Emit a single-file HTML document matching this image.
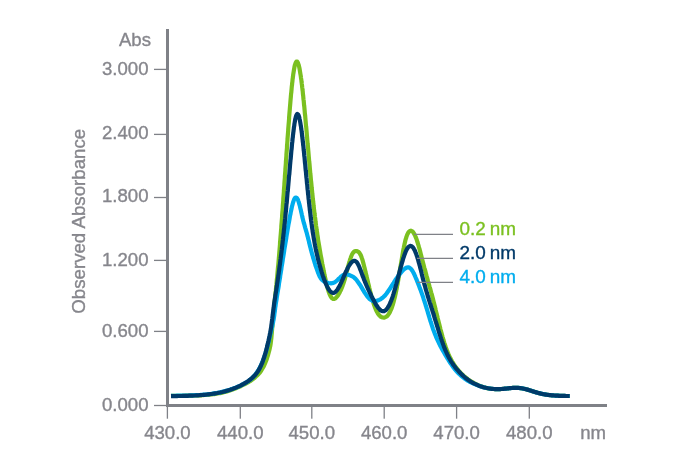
<!DOCTYPE html>
<html><head><meta charset="utf-8"><style>
html,body{margin:0;padding:0;background:#fff;width:695px;height:460px;overflow:hidden;font-family:"Liberation Sans",sans-serif;}
</style></head><body>
<svg width="695" height="460" viewBox="0 0 695 460" style="position:absolute;left:0;top:0;will-change:transform">
<g fill="#7f8187">
<rect x="166" y="29" width="3" height="378"/>
<rect x="166" y="404" width="441" height="3"/>
<rect x="154" y="68.75" width="12" height="1.3"/>
<rect x="154" y="133.75" width="12" height="1.3"/>
<rect x="154" y="196.85" width="12" height="1.3"/>
<rect x="154" y="259.75" width="12" height="1.3"/>
<rect x="154" y="330.75" width="12" height="1.3"/>
<rect x="154" y="404.85" width="12" height="1.3"/>
<rect x="166.75" y="405" width="1.3" height="13.7"/>
<rect x="239.65" y="405" width="1.3" height="13.7"/>
<rect x="311.15" y="405" width="1.3" height="13.7"/>
<rect x="383.55" y="405" width="1.3" height="13.7"/>
<rect x="455.95" y="405" width="1.3" height="13.7"/>
<rect x="528.65" y="405" width="1.3" height="13.7"/>
</g>
<g font-family="Liberation Sans, sans-serif" font-size="18.6" fill="#86868c" stroke="#86868c" stroke-width="0.35">
<text x="148.5" y="75.15" text-anchor="end">3.000</text>
<text x="148.5" y="139.30" text-anchor="end">2.400</text>
<text x="148.5" y="202.15" text-anchor="end">1.800</text>
<text x="148.5" y="266.30" text-anchor="end">1.200</text>
<text x="148.5" y="337.25" text-anchor="end">0.600</text>
<text x="148.5" y="411.30" text-anchor="end">0.000</text>
<text x="167.40" y="439.3" text-anchor="middle">430.0</text>
<text x="240.30" y="439.3" text-anchor="middle">440.0</text>
<text x="311.80" y="439.3" text-anchor="middle">450.0</text>
<text x="384.20" y="439.3" text-anchor="middle">460.0</text>
<text x="456.60" y="439.3" text-anchor="middle">470.0</text>
<text x="529.30" y="439.3" text-anchor="middle">480.0</text>
<text x="606" y="439.3" text-anchor="end">nm</text>
<text x="151" y="45.8" text-anchor="end">Abs</text>
<text transform="translate(85.0,221.3) rotate(-90)" x="0" y="0" text-anchor="middle" font-size="18.7">Observed Absorbance</text>
</g>
<g fill="none" stroke-width="4.2" stroke-linejoin="round" stroke-linecap="butt">
<path stroke="#7bc020" d="M171.00 395.90 L172.2 395.9 L173.4 395.9 L174.6 395.9 L175.8 395.9 L177.0 395.8 L178.2 395.8 L179.4 395.8 L180.6 395.8 L181.8 395.8 L183.0 395.8 L184.2 395.8 L185.4 395.7 L186.6 395.7 L187.8 395.7 L189.0 395.7 L190.2 395.6 L191.4 395.6 L192.6 395.6 L193.8 395.6 L195.0 395.5 L196.2 395.5 L197.4 395.4 L198.6 395.4 L199.8 395.3 L201.0 395.3 L202.2 395.2 L203.4 395.1 L204.6 395.0 L205.8 395.0 L207.0 394.9 L208.2 394.8 L209.4 394.6 L210.6 394.5 L211.8 394.4 L212.9 394.2 L214.1 394.1 L215.3 393.9 L216.5 393.7 L217.7 393.5 L218.9 393.3 L220.1 393.1 L221.2 392.9 L222.4 392.6 L223.6 392.3 L224.7 392.0 L225.9 391.7 L227.0 391.4 L228.2 391.0 L229.3 390.7 L230.5 390.3 L231.6 389.9 L232.7 389.5 L233.9 389.1 L235.0 388.6 L236.1 388.2 L237.2 387.7 L238.3 387.2 L239.4 386.8 L240.5 386.3 L241.6 385.7 L242.6 385.2 L243.7 384.7 L244.8 384.1 L245.8 383.6 L246.9 383.0 L247.9 382.4 L249.0 381.8 L250.0 381.2 L251.0 380.5 L252.0 379.8 L253.0 379.1 L253.9 378.4 L254.8 377.6 L255.7 376.8 L256.6 376.0 L257.5 375.2 L258.3 374.3 L259.1 373.4 L259.9 372.5 L260.6 371.5 L261.3 370.5 L261.9 369.5 L262.5 368.5 L263.1 367.5 L263.7 366.4 L264.2 365.3 L264.7 364.2 L265.2 363.1 L265.6 362.0 L266.1 360.9 L266.5 359.8 L266.9 358.6 L267.2 357.5 L267.6 356.3 L268.0 355.2 L268.3 354.0 L268.6 352.9 L268.9 351.7 L269.2 350.6 L269.5 349.4 L269.8 348.2 L270.0 347.1 L270.3 345.9 L270.5 344.7 L270.7 343.5 L270.8 342.3 L271.0 341.1 L271.1 339.9 L271.3 338.7 L271.4 337.6 L271.5 336.4 L271.6 335.2 L271.7 334.0 L271.8 332.8 L271.9 331.6 L272.0 330.4 L272.1 329.2 L272.2 328.0 L272.4 326.8 L272.5 325.6 L272.6 324.4 L272.7 323.2 L272.8 322.0 L272.9 320.8 L273.1 319.6 L273.2 318.4 L273.3 317.2 L273.4 316.0 L273.5 314.9 L273.6 313.7 L273.7 312.5 L273.7 311.3 L273.8 310.1 L273.9 308.9 L274.0 307.7 L274.1 306.5 L274.3 305.3 L274.4 304.1 L274.5 302.9 L274.6 301.7 L274.7 300.5 L274.9 299.3 L275.0 298.1 L275.1 296.9 L275.3 295.7 L275.4 294.5 L275.5 293.4 L275.6 292.2 L275.8 291.0 L275.9 289.8 L276.0 288.6 L276.1 287.4 L276.2 286.2 L276.4 285.0 L276.5 283.8 L276.6 282.6 L276.7 281.4 L276.8 280.2 L276.9 279.0 L277.1 277.8 L277.2 276.6 L277.3 275.4 L277.4 274.2 L277.5 273.0 L277.6 271.9 L277.7 270.7 L277.8 269.5 L277.9 268.3 L278.0 267.1 L278.2 265.9 L278.3 264.7 L278.4 263.5 L278.5 262.3 L278.6 261.1 L278.7 259.9 L278.8 258.7 L278.9 257.5 L279.0 256.3 L279.1 255.1 L279.2 253.9 L279.3 252.7 L279.4 251.5 L279.5 250.3 L279.6 249.1 L279.7 247.9 L279.8 246.7 L279.9 245.5 L280.0 244.4 L280.0 243.2 L280.1 242.0 L280.2 240.8 L280.3 239.6 L280.4 238.4 L280.5 237.2 L280.6 236.0 L280.7 234.8 L280.8 233.6 L280.9 232.4 L281.0 231.2 L281.1 230.0 L281.2 228.8 L281.3 227.6 L281.3 226.4 L281.4 225.2 L281.5 224.0 L281.6 222.8 L281.7 221.6 L281.8 220.4 L281.9 219.2 L282.0 218.0 L282.1 216.8 L282.1 215.6 L282.2 214.4 L282.3 213.2 L282.4 212.0 L282.5 210.8 L282.6 209.7 L282.7 208.5 L282.8 207.3 L282.8 206.1 L282.9 204.9 L283.0 203.7 L283.1 202.5 L283.2 201.3 L283.3 200.1 L283.3 198.9 L283.4 197.7 L283.5 196.5 L283.6 195.3 L283.7 194.1 L283.8 192.9 L283.9 191.7 L283.9 190.5 L284.0 189.3 L284.1 188.1 L284.2 186.9 L284.3 185.7 L284.4 184.5 L284.4 183.3 L284.5 182.1 L284.6 180.9 L284.7 179.7 L284.8 178.5 L284.9 177.3 L284.9 176.1 L285.0 174.9 L285.1 173.7 L285.2 172.5 L285.3 171.3 L285.4 170.1 L285.4 169.0 L285.5 167.8 L285.6 166.6 L285.7 165.4 L285.8 164.2 L285.9 163.0 L285.9 161.8 L286.0 160.6 L286.1 159.4 L286.2 158.2 L286.3 157.0 L286.4 155.8 L286.4 154.6 L286.5 153.4 L286.6 152.2 L286.7 151.0 L286.8 149.8 L286.9 148.6 L287.0 147.4 L287.0 146.2 L287.1 145.0 L287.2 143.8 L287.3 142.6 L287.4 141.4 L287.5 140.2 L287.5 139.0 L287.6 137.8 L287.7 136.6 L287.8 135.4 L287.9 134.2 L288.0 133.0 L288.1 131.8 L288.2 130.6 L288.2 129.5 L288.3 128.3 L288.4 127.1 L288.5 125.9 L288.6 124.7 L288.7 123.5 L288.8 122.3 L288.9 121.1 L289.0 119.9 L289.1 118.7 L289.1 117.5 L289.2 116.3 L289.3 115.1 L289.4 113.9 L289.5 112.7 L289.6 111.5 L289.7 110.3 L289.8 109.1 L289.9 107.9 L290.0 106.7 L290.1 105.5 L290.2 104.3 L290.3 103.1 L290.4 101.9 L290.5 100.7 L290.6 99.5 L290.7 98.3 L290.8 97.2 L290.9 96.0 L291.0 94.8 L291.1 93.6 L291.3 92.4 L291.4 91.2 L291.5 90.0 L291.6 88.8 L291.7 87.6 L291.8 86.4 L292.0 85.2 L292.1 84.0 L292.2 82.8 L292.4 81.6 L292.5 80.4 L292.6 79.2 L292.8 78.1 L292.9 76.9 L293.1 75.7 L293.2 74.5 L293.4 73.3 L293.6 72.1 L293.8 70.9 L294.0 69.7 L294.2 68.6 L294.4 67.4 L294.6 66.2 L294.9 65.0 L295.3 63.9 L295.7 62.8 L296.3 61.7 L297.3 61.7 L297.9 62.8 L298.3 63.9 L298.7 65.0 L299.0 66.2 L299.3 67.4 L299.5 68.5 L299.7 69.7 L299.9 70.9 L300.1 72.1 L300.3 73.3 L300.5 74.5 L300.7 75.6 L300.9 76.8 L301.0 78.0 L301.2 79.2 L301.4 80.4 L301.5 81.6 L301.7 82.8 L301.8 84.0 L302.0 85.2 L302.1 86.4 L302.2 87.5 L302.4 88.7 L302.5 89.9 L302.7 91.1 L302.8 92.3 L302.9 93.5 L303.0 94.7 L303.2 95.9 L303.3 97.1 L303.4 98.3 L303.5 99.5 L303.7 100.7 L303.8 101.9 L303.9 103.1 L304.0 104.2 L304.1 105.4 L304.3 106.6 L304.4 107.8 L304.5 109.0 L304.6 110.2 L304.7 111.4 L304.8 112.6 L304.9 113.8 L305.1 115.0 L305.2 116.2 L305.3 117.4 L305.4 118.6 L305.5 119.8 L305.6 121.0 L305.7 122.2 L305.8 123.4 L305.9 124.6 L306.0 125.8 L306.2 126.9 L306.3 128.1 L306.4 129.3 L306.5 130.5 L306.6 131.7 L306.7 132.9 L306.8 134.1 L306.9 135.3 L307.0 136.5 L307.1 137.7 L307.2 138.9 L307.3 140.1 L307.4 141.3 L307.5 142.5 L307.6 143.7 L307.8 144.9 L307.9 146.1 L308.0 147.3 L308.1 148.5 L308.2 149.7 L308.3 150.9 L308.4 152.0 L308.5 153.2 L308.6 154.4 L308.7 155.6 L308.8 156.8 L308.9 158.0 L309.0 159.2 L309.1 160.4 L309.2 161.6 L309.4 162.8 L309.5 164.0 L309.6 165.2 L309.7 166.4 L309.8 167.6 L309.9 168.8 L310.0 170.0 L310.1 171.2 L310.2 172.4 L310.3 173.6 L310.5 174.8 L310.6 175.9 L310.7 177.1 L310.8 178.3 L310.9 179.5 L311.0 180.7 L311.1 181.9 L311.3 183.1 L311.4 184.3 L311.5 185.5 L311.6 186.7 L311.7 187.9 L311.9 189.1 L312.0 190.3 L312.1 191.5 L312.2 192.7 L312.3 193.9 L312.5 195.1 L312.6 196.2 L312.7 197.4 L312.8 198.6 L313.0 199.8 L313.1 201.0 L313.2 202.2 L313.4 203.4 L313.5 204.6 L313.6 205.8 L313.8 207.0 L313.9 208.2 L314.0 209.4 L314.2 210.6 L314.3 211.8 L314.5 212.9 L314.6 214.1 L314.8 215.3 L314.9 216.5 L315.1 217.7 L315.2 218.9 L315.4 220.1 L315.5 221.3 L315.7 222.5 L315.8 223.7 L316.0 224.8 L316.1 226.0 L316.3 227.2 L316.5 228.4 L316.6 229.6 L316.8 230.8 L317.0 232.0 L317.2 233.2 L317.3 234.4 L317.5 235.5 L317.7 236.7 L317.9 237.9 L318.0 239.1 L318.2 240.3 L318.4 241.5 L318.6 242.7 L318.8 243.8 L319.0 245.0 L319.2 246.2 L319.4 247.4 L319.6 248.6 L319.8 249.8 L320.0 250.9 L320.2 252.1 L320.4 253.3 L320.6 254.5 L320.8 255.7 L321.0 256.8 L321.3 258.0 L321.5 259.2 L321.7 260.4 L321.9 261.6 L322.1 262.7 L322.3 263.9 L322.6 265.1 L322.8 266.3 L323.0 267.5 L323.3 268.6 L323.5 269.8 L323.7 271.0 L324.0 272.2 L324.2 273.3 L324.4 274.5 L324.7 275.7 L324.9 276.9 L325.2 278.0 L325.5 279.2 L325.7 280.4 L326.0 281.6 L326.3 282.7 L326.5 283.9 L326.8 285.1 L327.1 286.2 L327.4 287.4 L327.7 288.5 L328.1 289.7 L328.4 290.8 L328.8 292.0 L329.2 293.1 L329.6 294.2 L330.1 295.3 L330.7 296.4 L331.3 297.4 L332.1 298.3 L333.1 298.9 L334.3 298.9 L335.3 298.4 L336.2 297.5 L337.0 296.6 L337.7 295.7 L338.4 294.7 L339.0 293.6 L339.6 292.6 L340.1 291.5 L340.7 290.5 L341.2 289.4 L341.6 288.3 L342.1 287.1 L342.5 286.0 L342.9 284.9 L343.3 283.8 L343.7 282.6 L344.1 281.5 L344.4 280.3 L344.8 279.2 L345.1 278.0 L345.4 276.9 L345.7 275.7 L346.0 274.6 L346.3 273.4 L346.6 272.2 L346.9 271.1 L347.2 269.9 L347.5 268.7 L347.8 267.6 L348.1 266.4 L348.5 265.3 L348.8 264.1 L349.1 263.0 L349.4 261.8 L349.8 260.6 L350.1 259.5 L350.5 258.4 L350.9 257.2 L351.3 256.1 L351.8 255.0 L352.3 253.9 L353.0 252.9 L353.7 252.0 L354.7 251.3 L355.8 251.0 L357.0 251.1 L358.1 251.6 L359.0 252.4 L359.7 253.3 L360.3 254.4 L360.9 255.4 L361.3 256.5 L361.7 257.7 L362.1 258.8 L362.5 260.0 L362.8 261.1 L363.1 262.3 L363.4 263.4 L363.7 264.6 L364.0 265.7 L364.3 266.9 L364.6 268.1 L364.9 269.2 L365.2 270.4 L365.4 271.6 L365.7 272.7 L366.0 273.9 L366.3 275.1 L366.5 276.3 L366.8 277.4 L367.1 278.6 L367.4 279.8 L367.7 280.9 L367.9 282.1 L368.2 283.3 L368.5 284.4 L368.8 285.6 L369.1 286.8 L369.3 287.9 L369.6 289.1 L369.9 290.2 L370.2 291.4 L370.5 292.6 L370.8 293.7 L371.1 294.9 L371.4 296.1 L371.8 297.2 L372.1 298.4 L372.4 299.5 L372.8 300.7 L373.1 301.8 L373.5 303.0 L373.8 304.1 L374.2 305.2 L374.6 306.4 L375.0 307.5 L375.5 308.6 L375.9 309.7 L376.4 310.8 L377.0 311.9 L377.5 312.9 L378.2 314.0 L378.9 314.9 L379.7 315.8 L380.6 316.6 L381.7 317.2 L382.8 317.5 L384.0 317.6 L385.2 317.3 L386.2 316.7 L387.2 316.0 L388.0 315.1 L388.7 314.1 L389.3 313.1 L389.9 312.1 L390.4 311.0 L390.9 309.9 L391.4 308.8 L391.8 307.7 L392.2 306.5 L392.6 305.4 L392.9 304.2 L393.3 303.1 L393.6 301.9 L393.9 300.8 L394.2 299.6 L394.5 298.5 L394.8 297.3 L395.1 296.1 L395.3 295.0 L395.6 293.8 L395.8 292.6 L396.1 291.4 L396.3 290.3 L396.6 289.1 L396.8 287.9 L397.0 286.7 L397.2 285.5 L397.5 284.4 L397.7 283.2 L397.9 282.0 L398.1 280.8 L398.3 279.6 L398.5 278.5 L398.7 277.3 L398.9 276.1 L399.1 274.9 L399.3 273.7 L399.5 272.5 L399.7 271.4 L399.9 270.2 L400.1 269.0 L400.3 267.8 L400.5 266.6 L400.7 265.4 L400.9 264.3 L401.1 263.1 L401.3 261.9 L401.5 260.7 L401.7 259.5 L401.9 258.3 L402.1 257.2 L402.3 256.0 L402.5 254.8 L402.7 253.6 L402.9 252.4 L403.1 251.2 L403.3 250.1 L403.5 248.9 L403.8 247.7 L404.0 246.5 L404.3 245.4 L404.5 244.2 L404.8 243.0 L405.1 241.8 L405.3 240.7 L405.6 239.5 L406.0 238.4 L406.3 237.2 L406.7 236.1 L407.1 235.0 L407.6 233.9 L408.2 232.8 L408.9 231.8 L409.8 231.0 L410.9 230.7 L412.0 231.1 L412.9 231.9 L413.6 232.9 L414.2 233.9 L414.8 235.0 L415.3 236.1 L415.7 237.2 L416.2 238.3 L416.6 239.4 L417.0 240.6 L417.3 241.7 L417.7 242.8 L418.0 244.0 L418.4 245.1 L418.7 246.3 L419.0 247.4 L419.4 248.6 L419.7 249.8 L420.0 250.9 L420.3 252.1 L420.6 253.2 L420.9 254.4 L421.2 255.6 L421.5 256.7 L421.8 257.9 L422.1 259.0 L422.4 260.2 L422.7 261.4 L423.0 262.5 L423.3 263.7 L423.6 264.8 L423.9 266.0 L424.2 267.2 L424.5 268.3 L424.9 269.5 L425.2 270.6 L425.5 271.8 L425.8 273.0 L426.1 274.1 L426.4 275.3 L426.7 276.4 L427.1 277.6 L427.4 278.7 L427.7 279.9 L428.0 281.1 L428.4 282.2 L428.7 283.4 L429.0 284.5 L429.3 285.7 L429.6 286.8 L430.0 288.0 L430.3 289.1 L430.6 290.3 L430.9 291.5 L431.2 292.6 L431.6 293.8 L431.9 294.9 L432.2 296.1 L432.5 297.3 L432.8 298.4 L433.1 299.6 L433.4 300.7 L433.7 301.9 L434.0 303.1 L434.3 304.2 L434.6 305.4 L434.9 306.6 L435.2 307.7 L435.5 308.9 L435.7 310.0 L436.0 311.2 L436.3 312.4 L436.6 313.5 L436.9 314.7 L437.2 315.9 L437.5 317.0 L437.7 318.2 L438.0 319.4 L438.3 320.5 L438.6 321.7 L438.9 322.9 L439.2 324.0 L439.5 325.2 L439.8 326.4 L440.1 327.5 L440.3 328.7 L440.6 329.9 L441.0 331.0 L441.3 332.2 L441.6 333.3 L441.9 334.5 L442.2 335.6 L442.5 336.8 L442.9 338.0 L443.2 339.1 L443.5 340.3 L443.9 341.4 L444.2 342.6 L444.6 343.7 L445.0 344.8 L445.3 346.0 L445.7 347.1 L446.1 348.2 L446.5 349.4 L447.0 350.5 L447.4 351.6 L447.9 352.7 L448.3 353.8 L448.8 354.9 L449.3 356.0 L449.8 357.1 L450.3 358.2 L450.9 359.2 L451.5 360.3 L452.0 361.4 L452.7 362.4 L453.3 363.4 L453.9 364.4 L454.6 365.4 L455.3 366.4 L456.0 367.4 L456.7 368.3 L457.5 369.3 L458.2 370.2 L459.0 371.1 L459.8 372.0 L460.6 372.9 L461.5 373.7 L462.3 374.6 L463.2 375.4 L464.1 376.2 L465.0 377.0 L465.9 377.7 L466.9 378.5 L467.8 379.2 L468.8 379.9 L469.8 380.6 L470.8 381.2 L471.8 381.8 L472.9 382.4 L473.9 383.0 L475.0 383.6 L476.0 384.2 L477.1 384.7 L478.2 385.2 L479.3 385.6 L480.4 386.1 L481.6 386.5 L482.7 386.9 L483.8 387.3 L485.0 387.6 L486.2 387.9 L487.3 388.1 L488.5 388.4 L489.7 388.6 L490.9 388.7 L492.1 388.9 L493.3 389.0 L494.5 389.1 L495.7 389.1 L496.9 389.1 L498.1 389.1 L499.3 389.1 L500.5 389.1 L501.7 389.0 L502.9 388.9 L504.1 388.8 L505.2 388.7 L506.4 388.5 L507.6 388.4 L508.8 388.3 L510.0 388.1 L511.2 388.0 L512.4 387.9 L513.6 387.9 L514.8 387.8 L516.0 387.8 L517.2 387.8 L518.4 387.9 L519.6 388.0 L520.8 388.2 L522.0 388.3 L523.2 388.6 L524.3 388.8 L525.5 389.1 L526.7 389.4 L527.8 389.7 L529.0 390.1 L530.1 390.4 L531.2 390.8 L532.4 391.2 L533.5 391.5 L534.7 391.9 L535.8 392.2 L537.0 392.6 L538.1 392.9 L539.3 393.2 L540.5 393.5 L541.6 393.8 L542.8 394.0 L544.0 394.3 L545.2 394.5 L546.3 394.7 L547.5 394.8 L548.7 395.0 L549.9 395.1 L551.1 395.2 L552.3 395.4 L553.5 395.4 L554.7 395.5 L555.9 395.6 L557.1 395.7 L558.3 395.7 L559.5 395.8 L560.7 395.8 L561.9 395.9 L563.1 395.9 L564.3 395.9 L565.5 396.0 L566.7 396.0 L567.9 396.0 L569.1 396.0 L569.7 396.0"/>
<path stroke="#00adee" d="M171.00 395.82 L172.2 395.8 L173.4 395.8 L174.6 395.8 L175.8 395.8 L177.0 395.7 L178.2 395.7 L179.4 395.7 L180.6 395.7 L181.8 395.7 L183.0 395.6 L184.2 395.6 L185.4 395.6 L186.6 395.6 L187.8 395.5 L189.0 395.5 L190.2 395.4 L191.4 395.4 L192.6 395.4 L193.8 395.3 L195.0 395.2 L196.2 395.2 L197.4 395.1 L198.6 395.0 L199.8 395.0 L201.0 394.9 L202.2 394.8 L203.4 394.7 L204.6 394.6 L205.8 394.5 L207.0 394.4 L208.2 394.2 L209.3 394.1 L210.5 394.0 L211.7 393.8 L212.9 393.6 L214.1 393.4 L215.3 393.2 L216.5 393.0 L217.6 392.8 L218.8 392.6 L220.0 392.4 L221.2 392.1 L222.3 391.8 L223.5 391.5 L224.7 391.2 L225.8 390.9 L227.0 390.6 L228.1 390.3 L229.3 389.9 L230.4 389.5 L231.6 389.1 L232.7 388.8 L233.8 388.3 L234.9 387.9 L236.1 387.5 L237.2 387.0 L238.3 386.5 L239.4 386.1 L240.5 385.6 L241.5 385.0 L242.6 384.5 L243.7 383.9 L244.7 383.3 L245.7 382.7 L246.8 382.1 L247.8 381.5 L248.8 380.8 L249.7 380.0 L250.6 379.3 L251.6 378.5 L252.4 377.7 L253.3 376.8 L254.1 376.0 L254.9 375.1 L255.6 374.1 L256.4 373.2 L257.1 372.2 L257.7 371.2 L258.4 370.2 L259.0 369.1 L259.6 368.1 L260.1 367.0 L260.6 366.0 L261.2 364.9 L261.6 363.8 L262.1 362.7 L262.6 361.6 L263.0 360.4 L263.4 359.3 L263.8 358.2 L264.2 357.0 L264.6 355.9 L265.0 354.8 L265.3 353.6 L265.7 352.5 L266.0 351.3 L266.4 350.2 L266.7 349.0 L267.0 347.9 L267.3 346.7 L267.6 345.5 L267.9 344.4 L268.2 343.2 L268.5 342.1 L268.8 340.9 L269.0 339.7 L269.3 338.5 L269.6 337.4 L269.8 336.2 L270.1 335.0 L270.4 333.9 L270.6 332.7 L270.9 331.5 L271.2 330.4 L271.5 329.2 L271.7 328.0 L272.0 326.9 L272.3 325.7 L272.5 324.5 L272.8 323.3 L273.1 322.2 L273.3 321.0 L273.5 319.8 L273.7 318.6 L273.9 317.5 L274.1 316.3 L274.3 315.1 L274.4 313.9 L274.6 312.7 L274.8 311.5 L274.9 310.3 L275.1 309.1 L275.2 307.9 L275.4 306.7 L275.6 305.6 L275.7 304.4 L275.9 303.2 L276.1 302.0 L276.3 300.8 L276.5 299.6 L276.7 298.4 L276.8 297.3 L277.0 296.1 L277.2 294.9 L277.4 293.7 L277.6 292.5 L277.8 291.3 L278.0 290.2 L278.2 289.0 L278.4 287.8 L278.6 286.6 L278.8 285.4 L278.9 284.2 L279.1 283.0 L279.3 281.9 L279.5 280.7 L279.7 279.5 L279.9 278.3 L280.1 277.1 L280.2 275.9 L280.4 274.7 L280.6 273.6 L280.8 272.4 L281.0 271.2 L281.2 270.0 L281.4 268.8 L281.5 267.6 L281.7 266.4 L281.9 265.3 L282.1 264.1 L282.3 262.9 L282.5 261.7 L282.7 260.5 L282.8 259.3 L283.0 258.1 L283.2 257.0 L283.4 255.8 L283.6 254.6 L283.8 253.4 L284.0 252.2 L284.2 251.0 L284.3 249.8 L284.5 248.7 L284.7 247.5 L284.9 246.3 L285.1 245.1 L285.3 243.9 L285.5 242.7 L285.7 241.6 L285.9 240.4 L286.1 239.2 L286.3 238.0 L286.4 236.8 L286.6 235.6 L286.8 234.4 L287.0 233.3 L287.2 232.1 L287.4 230.9 L287.6 229.7 L287.8 228.5 L288.0 227.3 L288.2 226.2 L288.4 225.0 L288.6 223.8 L288.9 222.6 L289.1 221.4 L289.3 220.3 L289.5 219.1 L289.7 217.9 L289.9 216.7 L290.1 215.5 L290.4 214.4 L290.6 213.2 L290.8 212.0 L291.1 210.8 L291.3 209.7 L291.6 208.5 L291.8 207.3 L292.1 206.1 L292.4 205.0 L292.7 203.8 L293.0 202.7 L293.4 201.5 L293.8 200.4 L294.2 199.3 L294.8 198.2 L295.7 197.5 L296.8 197.9 L297.5 198.9 L298.0 199.9 L298.4 201.1 L298.8 202.2 L299.1 203.4 L299.4 204.5 L299.8 205.7 L300.0 206.8 L300.3 208.0 L300.6 209.2 L300.9 210.3 L301.1 211.5 L301.4 212.7 L301.7 213.9 L301.9 215.0 L302.2 216.2 L302.4 217.4 L302.7 218.5 L303.0 219.7 L303.3 220.9 L303.6 222.0 L303.9 223.2 L304.3 224.3 L304.6 225.5 L304.9 226.6 L305.2 227.8 L305.6 229.0 L305.9 230.1 L306.2 231.3 L306.6 232.4 L306.9 233.6 L307.2 234.7 L307.5 235.9 L307.8 237.0 L308.1 238.2 L308.4 239.4 L308.7 240.5 L309.0 241.7 L309.2 242.9 L309.5 244.0 L309.8 245.2 L310.1 246.4 L310.4 247.5 L310.7 248.7 L311.0 249.9 L311.3 251.0 L311.6 252.2 L311.9 253.3 L312.2 254.5 L312.6 255.6 L312.9 256.8 L313.2 258.0 L313.6 259.1 L313.9 260.3 L314.3 261.4 L314.6 262.6 L315.0 263.7 L315.3 264.8 L315.7 266.0 L316.1 267.1 L316.5 268.2 L316.9 269.4 L317.3 270.5 L317.7 271.6 L318.1 272.8 L318.6 273.9 L319.0 275.0 L319.5 276.1 L320.1 277.1 L320.7 278.2 L321.4 279.1 L322.2 280.0 L323.1 280.8 L324.1 281.5 L325.2 282.0 L326.3 282.4 L327.5 282.7 L328.6 283.0 L329.8 283.2 L331.0 283.3 L332.2 283.2 L333.4 282.9 L334.5 282.4 L335.5 281.8 L336.4 281.0 L337.3 280.2 L338.2 279.4 L339.0 278.5 L339.9 277.7 L340.7 276.9 L341.6 276.1 L342.6 275.4 L343.7 274.8 L344.8 274.5 L346.0 274.4 L347.2 274.5 L348.4 274.8 L349.5 275.1 L350.6 275.6 L351.7 276.1 L352.8 276.6 L353.8 277.3 L354.7 278.1 L355.6 278.9 L356.4 279.8 L357.1 280.7 L357.8 281.7 L358.5 282.7 L359.2 283.7 L359.9 284.7 L360.5 285.7 L361.1 286.7 L361.7 287.8 L362.4 288.8 L363.0 289.8 L363.6 290.8 L364.2 291.9 L364.8 292.9 L365.5 293.9 L366.2 294.9 L366.9 295.9 L367.6 296.8 L368.4 297.7 L369.2 298.6 L370.1 299.4 L371.1 300.0 L372.2 300.6 L373.3 300.9 L374.5 301.0 L375.7 300.9 L376.9 300.7 L378.1 300.4 L379.2 299.9 L380.2 299.4 L381.3 298.7 L382.2 298.0 L383.1 297.3 L384.0 296.4 L384.9 295.6 L385.6 294.7 L386.4 293.8 L387.1 292.8 L387.8 291.8 L388.5 290.8 L389.2 289.8 L389.9 288.8 L390.5 287.8 L391.1 286.8 L391.8 285.8 L392.4 284.8 L393.1 283.8 L393.7 282.8 L394.3 281.7 L395.0 280.7 L395.6 279.7 L396.3 278.7 L397.0 277.7 L397.7 276.8 L398.4 275.8 L399.1 274.8 L399.9 273.9 L400.6 273.0 L401.4 272.1 L402.2 271.2 L403.0 270.3 L403.9 269.5 L404.8 268.7 L405.8 268.0 L406.9 267.5 L408.1 267.3 L409.2 267.6 L410.2 268.2 L411.1 269.0 L411.8 270.0 L412.5 271.0 L413.1 272.0 L413.6 273.1 L414.2 274.2 L414.7 275.3 L415.2 276.4 L415.6 277.5 L416.1 278.6 L416.6 279.7 L417.0 280.8 L417.4 281.9 L417.9 283.0 L418.3 284.1 L418.8 285.3 L419.2 286.4 L419.6 287.5 L420.0 288.6 L420.5 289.8 L420.9 290.9 L421.3 292.0 L421.7 293.1 L422.1 294.3 L422.5 295.4 L422.9 296.5 L423.3 297.7 L423.6 298.8 L424.0 300.0 L424.4 301.1 L424.7 302.2 L425.1 303.4 L425.5 304.5 L425.8 305.7 L426.2 306.8 L426.5 308.0 L426.9 309.1 L427.2 310.3 L427.6 311.4 L427.9 312.6 L428.2 313.7 L428.6 314.9 L428.9 316.0 L429.3 317.2 L429.6 318.3 L430.0 319.5 L430.3 320.6 L430.7 321.8 L431.1 322.9 L431.4 324.0 L431.8 325.2 L432.2 326.3 L432.6 327.5 L432.9 328.6 L433.3 329.7 L433.8 330.9 L434.2 332.0 L434.6 333.1 L435.0 334.2 L435.5 335.3 L435.9 336.4 L436.4 337.6 L436.9 338.7 L437.4 339.7 L437.9 340.8 L438.4 341.9 L438.9 343.0 L439.4 344.1 L440.0 345.2 L440.5 346.2 L441.1 347.3 L441.6 348.3 L442.2 349.4 L442.8 350.4 L443.4 351.5 L444.0 352.5 L444.6 353.6 L445.2 354.6 L445.8 355.6 L446.4 356.7 L447.0 357.7 L447.7 358.7 L448.3 359.7 L448.9 360.8 L449.6 361.8 L450.2 362.8 L450.9 363.8 L451.6 364.7 L452.3 365.7 L453.0 366.7 L453.7 367.7 L454.4 368.6 L455.2 369.6 L455.9 370.5 L456.7 371.4 L457.5 372.3 L458.4 373.2 L459.2 374.0 L460.1 374.8 L460.9 375.7 L461.8 376.4 L462.8 377.2 L463.7 377.9 L464.7 378.7 L465.7 379.3 L466.7 380.0 L467.7 380.6 L468.7 381.2 L469.8 381.8 L470.9 382.3 L471.9 382.9 L473.0 383.4 L474.1 383.9 L475.2 384.3 L476.3 384.8 L477.5 385.2 L478.6 385.7 L479.7 386.1 L480.8 386.4 L482.0 386.8 L483.1 387.1 L484.3 387.5 L485.5 387.7 L486.6 388.0 L487.8 388.2 L489.0 388.4 L490.2 388.6 L491.4 388.8 L492.6 388.9 L493.8 389.0 L495.0 389.1 L496.2 389.1 L497.4 389.1 L498.6 389.1 L499.8 389.1 L500.9 389.0 L502.1 389.0 L503.3 388.9 L504.5 388.7 L505.7 388.6 L506.9 388.5 L508.1 388.3 L509.3 388.2 L510.5 388.1 L511.7 388.0 L512.9 387.9 L514.1 387.9 L515.3 387.8 L516.5 387.8 L517.7 387.9 L518.9 387.9 L520.1 388.1 L521.3 388.2 L522.5 388.4 L523.6 388.7 L524.8 388.9 L526.0 389.2 L527.1 389.5 L528.3 389.9 L529.4 390.2 L530.6 390.6 L531.7 390.9 L532.9 391.3 L534.0 391.7 L535.1 392.0 L536.3 392.4 L537.4 392.7 L538.6 393.0 L539.8 393.3 L540.9 393.6 L542.1 393.9 L543.3 394.1 L544.5 394.3 L545.6 394.6 L546.8 394.7 L548.0 394.9 L549.2 395.0 L550.4 395.2 L551.6 395.3 L552.8 395.4 L554.0 395.5 L555.2 395.6 L556.4 395.6 L557.6 395.7 L558.8 395.7 L560.0 395.8 L561.2 395.8 L562.4 395.9 L563.6 395.9 L564.8 395.9 L566.0 396.0 L567.2 396.0 L568.4 396.0 L569.6 396.0 L569.7 396.0"/>
<path stroke="#003a69" d="M171.00 396.14 L172.2 396.1 L173.4 396.1 L174.6 396.1 L175.8 396.1 L177.0 396.1 L178.2 396.0 L179.4 396.0 L180.6 396.0 L181.8 396.0 L183.0 395.9 L184.2 395.9 L185.4 395.9 L186.6 395.8 L187.8 395.8 L189.0 395.7 L190.2 395.7 L191.4 395.7 L192.6 395.6 L193.8 395.5 L195.0 395.5 L196.2 395.4 L197.4 395.3 L198.6 395.3 L199.8 395.2 L201.0 395.1 L202.2 395.0 L203.4 394.9 L204.6 394.8 L205.8 394.7 L207.0 394.5 L208.1 394.4 L209.3 394.3 L210.5 394.1 L211.7 394.0 L212.9 393.8 L214.1 393.6 L215.3 393.4 L216.5 393.2 L217.6 393.0 L218.8 392.7 L220.0 392.5 L221.2 392.2 L222.3 392.0 L223.5 391.7 L224.7 391.4 L225.8 391.1 L227.0 390.7 L228.1 390.4 L229.3 390.0 L230.4 389.7 L231.5 389.3 L232.7 388.9 L233.8 388.4 L234.9 388.0 L236.0 387.6 L237.1 387.1 L238.2 386.6 L239.3 386.1 L240.4 385.6 L241.5 385.0 L242.5 384.5 L243.6 383.9 L244.6 383.3 L245.7 382.7 L246.7 382.1 L247.7 381.4 L248.7 380.7 L249.6 380.0 L250.6 379.3 L251.5 378.5 L252.4 377.7 L253.3 376.9 L254.1 376.1 L255.0 375.2 L255.7 374.3 L256.5 373.4 L257.2 372.4 L257.9 371.4 L258.5 370.4 L259.1 369.4 L259.7 368.3 L260.2 367.2 L260.8 366.1 L261.2 365.0 L261.7 363.9 L262.2 362.8 L262.6 361.7 L263.0 360.6 L263.4 359.4 L263.8 358.3 L264.2 357.2 L264.5 356.0 L264.9 354.9 L265.2 353.7 L265.6 352.6 L265.9 351.4 L266.2 350.3 L266.5 349.1 L266.8 347.9 L267.1 346.8 L267.4 345.6 L267.6 344.4 L267.9 343.3 L268.2 342.1 L268.5 340.9 L268.7 339.8 L269.0 338.6 L269.2 337.4 L269.5 336.2 L269.7 335.1 L269.9 333.9 L270.2 332.7 L270.4 331.5 L270.6 330.3 L270.8 329.2 L271.0 328.0 L271.2 326.8 L271.3 325.6 L271.5 324.4 L271.7 323.2 L271.8 322.0 L272.0 320.9 L272.1 319.7 L272.3 318.5 L272.4 317.3 L272.6 316.1 L272.7 314.9 L272.9 313.7 L273.0 312.5 L273.2 311.3 L273.3 310.1 L273.5 308.9 L273.6 307.8 L273.8 306.6 L273.9 305.4 L274.1 304.2 L274.2 303.0 L274.4 301.8 L274.6 300.6 L274.8 299.4 L275.0 298.2 L275.2 297.1 L275.3 295.9 L275.5 294.7 L275.7 293.5 L275.9 292.3 L276.1 291.1 L276.3 289.9 L276.4 288.8 L276.6 287.6 L276.8 286.4 L277.0 285.2 L277.1 284.0 L277.3 282.8 L277.5 281.6 L277.7 280.4 L277.8 279.3 L278.0 278.1 L278.2 276.9 L278.3 275.7 L278.5 274.5 L278.7 273.3 L278.8 272.1 L279.0 270.9 L279.2 269.8 L279.3 268.6 L279.5 267.4 L279.6 266.2 L279.8 265.0 L280.0 263.8 L280.1 262.6 L280.3 261.4 L280.4 260.2 L280.6 259.0 L280.7 257.9 L280.9 256.7 L281.0 255.5 L281.2 254.3 L281.3 253.1 L281.5 251.9 L281.6 250.7 L281.8 249.5 L281.9 248.3 L282.0 247.1 L282.2 245.9 L282.3 244.8 L282.5 243.6 L282.6 242.4 L282.7 241.2 L282.9 240.0 L283.0 238.8 L283.1 237.6 L283.3 236.4 L283.4 235.2 L283.5 234.0 L283.7 232.8 L283.8 231.6 L283.9 230.4 L284.0 229.3 L284.2 228.1 L284.3 226.9 L284.4 225.7 L284.5 224.5 L284.7 223.3 L284.8 222.1 L284.9 220.9 L285.0 219.7 L285.2 218.5 L285.3 217.3 L285.4 216.1 L285.5 214.9 L285.6 213.7 L285.7 212.5 L285.9 211.3 L286.0 210.1 L286.1 209.0 L286.2 207.8 L286.3 206.6 L286.4 205.4 L286.5 204.2 L286.7 203.0 L286.8 201.8 L286.9 200.6 L287.0 199.4 L287.1 198.2 L287.2 197.0 L287.3 195.8 L287.4 194.6 L287.5 193.4 L287.6 192.2 L287.8 191.0 L287.9 189.8 L288.0 188.6 L288.1 187.4 L288.2 186.2 L288.3 185.1 L288.4 183.9 L288.5 182.7 L288.6 181.5 L288.7 180.3 L288.8 179.1 L288.9 177.9 L289.0 176.7 L289.1 175.5 L289.3 174.3 L289.4 173.1 L289.5 171.9 L289.6 170.7 L289.7 169.5 L289.8 168.3 L289.9 167.1 L290.0 165.9 L290.1 164.7 L290.2 163.5 L290.3 162.3 L290.4 161.2 L290.5 160.0 L290.7 158.8 L290.8 157.6 L290.9 156.4 L291.0 155.2 L291.1 154.0 L291.2 152.8 L291.3 151.6 L291.4 150.4 L291.6 149.2 L291.7 148.0 L291.8 146.8 L291.9 145.6 L292.0 144.4 L292.1 143.2 L292.3 142.0 L292.4 140.8 L292.5 139.7 L292.6 138.5 L292.8 137.3 L292.9 136.1 L293.0 134.9 L293.2 133.7 L293.3 132.5 L293.5 131.3 L293.6 130.1 L293.8 128.9 L293.9 127.7 L294.1 126.5 L294.3 125.4 L294.4 124.2 L294.6 123.0 L294.8 121.8 L295.0 120.6 L295.2 119.4 L295.5 118.3 L295.8 117.1 L296.1 115.9 L296.6 114.8 L297.3 113.9 L298.2 114.6 L298.7 115.7 L299.1 116.8 L299.4 118.0 L299.6 119.2 L299.9 120.3 L300.1 121.5 L300.3 122.7 L300.5 123.9 L300.7 125.1 L300.9 126.2 L301.1 127.4 L301.2 128.6 L301.4 129.8 L301.6 131.0 L301.7 132.2 L301.9 133.4 L302.0 134.6 L302.1 135.8 L302.3 137.0 L302.4 138.1 L302.6 139.3 L302.7 140.5 L302.8 141.7 L303.0 142.9 L303.1 144.1 L303.2 145.3 L303.4 146.5 L303.5 147.7 L303.6 148.9 L303.7 150.1 L303.9 151.3 L304.0 152.5 L304.1 153.7 L304.2 154.8 L304.3 156.0 L304.5 157.2 L304.6 158.4 L304.7 159.6 L304.8 160.8 L304.9 162.0 L305.0 163.2 L305.2 164.4 L305.3 165.6 L305.4 166.8 L305.5 168.0 L305.6 169.2 L305.7 170.4 L305.9 171.6 L306.0 172.8 L306.1 174.0 L306.2 175.1 L306.3 176.3 L306.4 177.5 L306.6 178.7 L306.7 179.9 L306.8 181.1 L306.9 182.3 L307.0 183.5 L307.2 184.7 L307.3 185.9 L307.4 187.1 L307.5 188.3 L307.6 189.5 L307.8 190.7 L307.9 191.9 L308.0 193.1 L308.1 194.3 L308.3 195.4 L308.4 196.6 L308.5 197.8 L308.6 199.0 L308.8 200.2 L308.9 201.4 L309.0 202.6 L309.2 203.8 L309.3 205.0 L309.4 206.2 L309.6 207.4 L309.7 208.6 L309.8 209.8 L310.0 211.0 L310.1 212.1 L310.3 213.3 L310.4 214.5 L310.5 215.7 L310.7 216.9 L310.8 218.1 L311.0 219.3 L311.1 220.5 L311.3 221.7 L311.5 222.9 L311.6 224.0 L311.8 225.2 L311.9 226.4 L312.1 227.6 L312.3 228.8 L312.5 230.0 L312.6 231.2 L312.8 232.4 L313.0 233.5 L313.2 234.7 L313.4 235.9 L313.6 237.1 L313.8 238.3 L314.0 239.5 L314.2 240.7 L314.4 241.8 L314.6 243.0 L314.8 244.2 L315.0 245.4 L315.3 246.6 L315.5 247.7 L315.7 248.9 L316.0 250.1 L316.2 251.3 L316.5 252.4 L316.8 253.6 L317.0 254.8 L317.3 255.9 L317.6 257.1 L317.8 258.3 L318.1 259.4 L318.4 260.6 L318.7 261.8 L319.0 262.9 L319.4 264.1 L319.7 265.2 L320.0 266.4 L320.3 267.5 L320.7 268.7 L321.0 269.8 L321.4 271.0 L321.7 272.1 L322.1 273.3 L322.4 274.4 L322.8 275.6 L323.2 276.7 L323.6 277.8 L324.0 279.0 L324.4 280.1 L324.8 281.2 L325.3 282.3 L325.7 283.4 L326.2 284.5 L326.7 285.6 L327.2 286.7 L327.8 287.8 L328.4 288.8 L329.0 289.8 L329.7 290.8 L330.6 291.7 L331.5 292.4 L332.6 292.8 L333.8 292.8 L334.9 292.3 L335.8 291.6 L336.6 290.7 L337.4 289.7 L338.0 288.7 L338.6 287.7 L339.2 286.6 L339.8 285.6 L340.3 284.5 L340.8 283.4 L341.3 282.3 L341.8 281.2 L342.3 280.1 L342.8 279.0 L343.2 277.9 L343.7 276.8 L344.2 275.7 L344.7 274.6 L345.1 273.5 L345.6 272.4 L346.1 271.3 L346.7 270.2 L347.2 269.2 L347.7 268.1 L348.3 267.0 L348.9 266.0 L349.5 265.0 L350.2 264.0 L350.9 263.0 L351.7 262.1 L352.7 261.4 L353.7 260.9 L354.9 260.9 L356.0 261.5 L356.8 262.3 L357.5 263.3 L358.1 264.4 L358.6 265.4 L359.1 266.5 L359.6 267.6 L360.0 268.8 L360.4 269.9 L360.9 271.0 L361.3 272.1 L361.7 273.2 L362.1 274.4 L362.5 275.5 L362.9 276.6 L363.4 277.7 L363.8 278.9 L364.2 280.0 L364.7 281.1 L365.1 282.2 L365.6 283.3 L366.0 284.4 L366.5 285.5 L367.0 286.6 L367.5 287.7 L368.0 288.8 L368.5 289.9 L369.0 291.0 L369.5 292.1 L370.0 293.2 L370.6 294.2 L371.1 295.3 L371.6 296.4 L372.2 297.5 L372.7 298.5 L373.3 299.6 L373.8 300.6 L374.4 301.7 L375.0 302.8 L375.6 303.8 L376.2 304.8 L376.8 305.8 L377.5 306.8 L378.2 307.8 L379.0 308.7 L379.8 309.6 L380.7 310.4 L381.8 311.0 L382.9 311.2 L384.1 311.1 L385.2 310.5 L386.1 309.8 L386.9 308.9 L387.6 307.9 L388.2 306.9 L388.8 305.8 L389.4 304.8 L389.9 303.7 L390.4 302.6 L390.8 301.5 L391.3 300.4 L391.7 299.2 L392.1 298.1 L392.5 297.0 L392.9 295.8 L393.2 294.7 L393.6 293.6 L393.9 292.4 L394.3 291.3 L394.6 290.1 L395.0 289.0 L395.3 287.8 L395.6 286.7 L395.9 285.5 L396.3 284.3 L396.6 283.2 L396.9 282.0 L397.2 280.9 L397.5 279.7 L397.8 278.5 L398.1 277.4 L398.4 276.2 L398.7 275.1 L399.0 273.9 L399.3 272.7 L399.6 271.6 L399.9 270.4 L400.2 269.2 L400.5 268.1 L400.8 266.9 L401.2 265.8 L401.5 264.6 L401.8 263.5 L402.1 262.3 L402.5 261.2 L402.8 260.0 L403.1 258.9 L403.5 257.7 L403.9 256.6 L404.3 255.4 L404.7 254.3 L405.1 253.2 L405.5 252.1 L406.0 251.0 L406.5 249.9 L407.1 248.8 L407.8 247.8 L408.5 246.9 L409.5 246.2 L410.6 245.9 L411.7 246.3 L412.7 247.1 L413.4 248.0 L414.0 249.1 L414.6 250.1 L415.1 251.2 L415.5 252.3 L416.0 253.4 L416.4 254.6 L416.8 255.7 L417.2 256.8 L417.5 258.0 L417.9 259.1 L418.2 260.3 L418.5 261.4 L418.8 262.6 L419.2 263.7 L419.5 264.9 L419.8 266.1 L420.1 267.2 L420.4 268.4 L420.7 269.6 L421.0 270.7 L421.3 271.9 L421.6 273.0 L421.8 274.2 L422.1 275.4 L422.4 276.5 L422.7 277.7 L423.0 278.9 L423.3 280.0 L423.6 281.2 L423.9 282.3 L424.2 283.5 L424.5 284.7 L424.9 285.8 L425.2 287.0 L425.5 288.1 L425.8 289.3 L426.1 290.4 L426.5 291.6 L426.8 292.8 L427.2 293.9 L427.5 295.1 L427.8 296.2 L428.2 297.3 L428.6 298.5 L428.9 299.6 L429.3 300.8 L429.6 301.9 L430.0 303.1 L430.4 304.2 L430.7 305.4 L431.1 306.5 L431.4 307.6 L431.8 308.8 L432.2 309.9 L432.5 311.1 L432.9 312.2 L433.3 313.4 L433.6 314.5 L434.0 315.7 L434.3 316.8 L434.7 318.0 L435.0 319.1 L435.4 320.3 L435.7 321.4 L436.1 322.5 L436.4 323.7 L436.8 324.8 L437.1 326.0 L437.5 327.1 L437.8 328.3 L438.2 329.4 L438.5 330.6 L438.9 331.7 L439.2 332.9 L439.6 334.0 L440.0 335.2 L440.3 336.3 L440.7 337.4 L441.1 338.6 L441.5 339.7 L441.9 340.9 L442.3 342.0 L442.7 343.1 L443.1 344.2 L443.5 345.4 L443.9 346.5 L444.3 347.6 L444.8 348.7 L445.2 349.8 L445.7 350.9 L446.2 352.0 L446.7 353.1 L447.2 354.2 L447.7 355.3 L448.3 356.4 L448.8 357.4 L449.4 358.5 L450.0 359.5 L450.6 360.6 L451.2 361.6 L451.9 362.6 L452.6 363.6 L453.2 364.6 L453.9 365.5 L454.7 366.5 L455.4 367.5 L456.1 368.4 L456.9 369.3 L457.7 370.2 L458.5 371.1 L459.3 372.0 L460.1 372.9 L461.0 373.7 L461.8 374.6 L462.7 375.4 L463.6 376.2 L464.5 377.0 L465.4 377.8 L466.3 378.5 L467.3 379.2 L468.3 380.0 L469.2 380.6 L470.2 381.3 L471.3 381.9 L472.3 382.6 L473.3 383.1 L474.4 383.7 L475.5 384.2 L476.6 384.7 L477.7 385.2 L478.8 385.7 L479.9 386.1 L481.0 386.5 L482.2 386.8 L483.3 387.2 L484.5 387.5 L485.7 387.8 L486.8 388.0 L488.0 388.3 L489.2 388.5 L490.4 388.7 L491.6 388.8 L492.8 388.9 L494.0 389.0 L495.2 389.1 L496.4 389.1 L497.6 389.1 L498.8 389.1 L500.0 389.1 L501.2 389.0 L502.4 388.9 L503.5 388.8 L504.7 388.7 L505.9 388.6 L507.1 388.5 L508.3 388.3 L509.5 388.2 L510.7 388.1 L511.9 388.0 L513.1 387.9 L514.3 387.8 L515.5 387.8 L516.7 387.8 L517.9 387.9 L519.1 388.0 L520.3 388.1 L521.5 388.3 L522.7 388.5 L523.8 388.7 L525.0 389.0 L526.2 389.3 L527.3 389.6 L528.5 389.9 L529.6 390.3 L530.8 390.6 L531.9 391.0 L533.1 391.4 L534.2 391.7 L535.3 392.1 L536.5 392.4 L537.6 392.8 L538.8 393.1 L540.0 393.4 L541.1 393.7 L542.3 393.9 L543.5 394.2 L544.7 394.4 L545.8 394.6 L547.0 394.8 L548.2 394.9 L549.4 395.1 L550.6 395.2 L551.8 395.3 L553.0 395.4 L554.2 395.5 L555.4 395.6 L556.6 395.6 L557.8 395.7 L559.0 395.8 L560.2 395.8 L561.4 395.8 L562.6 395.9 L563.8 395.9 L565.0 395.9 L566.2 396.0 L567.4 396.0 L568.6 396.0 L569.7 396.0"/>
</g>
<g stroke="#7f8187" stroke-width="1.3">
<line x1="414.3" y1="234.4" x2="453" y2="234.4"/>
<line x1="417.0" y1="258.3" x2="453" y2="258.3"/>
<line x1="417.2" y1="282.4" x2="453" y2="282.4"/>
</g>
<g font-family="Liberation Sans, sans-serif" font-size="18.9" stroke-width="0.35">
<text x="459.5" y="235.2" fill="#7bc020" stroke="#7bc020">0.2 <tspan dx="-1.2">nm</tspan></text>
<text x="459.5" y="259.3" fill="#003a69" stroke="#003a69">2.0 <tspan dx="-1.2">nm</tspan></text>
<text x="459.5" y="283.3" fill="#00adee" stroke="#00adee">4.0 <tspan dx="-1.2">nm</tspan></text>
</g>
</svg>
</body></html>
